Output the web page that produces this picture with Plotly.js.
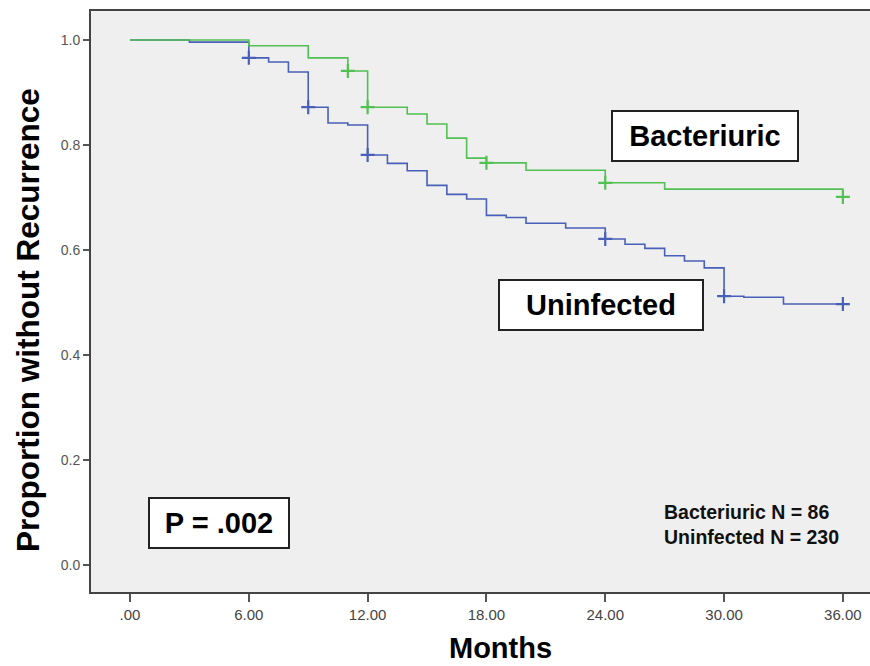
<!DOCTYPE html>
<html>
<head>
<meta charset="utf-8">
<script src="https://cdn.plot.ly/plotly-3.0.1.min.js"></script>
<style>html,body{margin:0;padding:0;background:#fff;}#chart{width:870px;height:666px;}</style>
</head>
<body>
<div id="chart"></div>
<script>
// Kaplan-Meier step data (months, proportion without recurrence)
var bactTimes = [0, 6, 9, 11, 12, 14, 15, 16, 17, 18, 20, 24, 27, 36];
var bactSurv  = [1.0, 0.989, 0.966, 0.941, 0.872, 0.859, 0.840, 0.813, 0.775, 0.766, 0.752, 0.728, 0.716, 0.701];
var bactCensorTimes = [11, 12, 18, 24, 36];
var bactCensorSurv  = [0.941, 0.872, 0.766, 0.728, 0.701];

var uninfTimes = [0, 3, 6, 7, 8, 9, 10, 11, 12, 13, 14, 15, 16, 17, 18, 19, 20, 22, 24, 25, 26, 27, 28, 29, 30, 31, 33, 36];
var uninfSurv  = [1.0, 0.996, 0.966, 0.958, 0.939, 0.872, 0.842, 0.838, 0.781, 0.765, 0.751, 0.723, 0.706, 0.697, 0.666, 0.662, 0.651, 0.642, 0.621, 0.611, 0.603, 0.589, 0.579, 0.566, 0.512, 0.510, 0.497, 0.497];
var uninfCensorTimes = [6, 9, 12, 24, 30, 36];
var uninfCensorSurv  = [0.966, 0.872, 0.781, 0.621, 0.512, 0.497];

var xTickVals = [0, 6, 12, 18, 24, 30, 36];
var xTickText = ['.00', '6.00', '12.00', '18.00', '24.00', '30.00', '36.00'];
var yTickVals = [0, 0.2, 0.4, 0.6, 0.8, 1.0];
var yTickText = ['0.0', '0.2', '0.4', '0.6', '0.8', '1.0'];

var green = 'rgb(82,192,82)';
var blue = 'rgb(72,96,184)';

var traces = [
  {x: uninfTimes, y: uninfSurv, mode: 'lines', line: {shape: 'hv', color: blue, width: 1.6}, hoverinfo: 'skip'},
  {x: bactTimes, y: bactSurv, mode: 'lines', line: {shape: 'hv', color: green, width: 1.6}, hoverinfo: 'skip'},
  {x: uninfCensorTimes, y: uninfCensorSurv, mode: 'markers', marker: {symbol: 'cross-thin', size: 10, line: {width: 2.2, color: blue}}, hoverinfo: 'skip'},
  {x: bactCensorTimes, y: bactCensorSurv, mode: 'markers', marker: {symbol: 'cross-thin', size: 10, line: {width: 2.2, color: green}}, hoverinfo: 'skip'}
];

var tickFont = {family: 'Liberation Sans Narrow, Arial Narrow, Liberation Sans, Arial, sans-serif', size: 15, color: '#444'};
var boldFont = {family: 'Liberation Sans, Arial, sans-serif', size: 29, color: '#000', weight: 'bold'};

var layout = {
  width: 870, height: 666,
  margin: {l: 91, r: 0, t: 11, b: 74},
  paper_bgcolor: '#ffffff',
  plot_bgcolor: '#efefef',
  showlegend: false,
  xaxis: {
    range: [-1.97, 37.37],
    tickvals: xTickVals, ticktext: xTickText,
    ticks: 'outside', ticklen: 8, tickwidth: 2, tickcolor: '#555',
    showgrid: false, zeroline: false,
    showline: true, linecolor: '#444', linewidth: 2, mirror: true,
    tickfont: tickFont
  },
  yaxis: {
    range: [-0.0514, 1.0552],
    tickvals: yTickVals, ticktext: yTickText,
    ticks: 'outside', ticklen: 6, tickwidth: 2, tickcolor: '#555',
    showgrid: false, zeroline: false,
    showline: true, linecolor: '#444', linewidth: 2, mirror: false,
    tickfont: {family: 'Liberation Sans, Arial, sans-serif', size: 14, color: '#555'}
  },
  annotations: [
    {xref: 'x', yref: 'y', x: 29.03, y: 0.817, text: 'Bacteriuric', showarrow: false,
     font: boldFont, bgcolor: '#ffffff', bordercolor: '#222', borderwidth: 2, borderpad: 0, width: 184, height: 48},
    {xref: 'x', yref: 'y', x: 23.78, y: 0.495, text: 'Uninfected', showarrow: false,
     font: boldFont, bgcolor: '#ffffff', bordercolor: '#222', borderwidth: 2, borderpad: 0, width: 202, height: 48},
    {xref: 'x', yref: 'y', x: 4.49, y: 0.080, text: 'P = .002', showarrow: false,
     font: boldFont, bgcolor: '#ffffff', bordercolor: '#222', borderwidth: 2, borderpad: 0, width: 138, height: 48},
    {xref: 'x', yref: 'y', x: 26.86, y: 0.0771, xanchor: 'left', align: 'left',
     text: 'Bacteriuric N = 86<br>Uninfected N = 230', showarrow: false,
     font: {family: 'Liberation Sans, Arial, sans-serif', size: 19.5, color: '#111', weight: 'bold'}},
    {xref: 'paper', yref: 'paper', x: (500 - 91) / 779, y: (592 - 648) / 581, xanchor: 'center', yanchor: 'middle',
     text: 'Months', showarrow: false, font: {family: 'Liberation Sans, Arial, sans-serif', size: 29, color: '#000', weight: 'bold'}},
    {xref: 'paper', yref: 'paper', x: (28 - 91) / 779, y: (592 - 320) / 581, xanchor: 'center', yanchor: 'middle',
     textangle: -90, text: 'Proportion without Recurrence', showarrow: false,
     font: {family: 'Liberation Sans, Arial, sans-serif', size: 31.5, color: '#000', weight: 'bold'}}
  ]
};

Plotly.newPlot('chart', traces, layout, {displayModeBar: false, staticPlot: true});
</script>
</body>
</html>
